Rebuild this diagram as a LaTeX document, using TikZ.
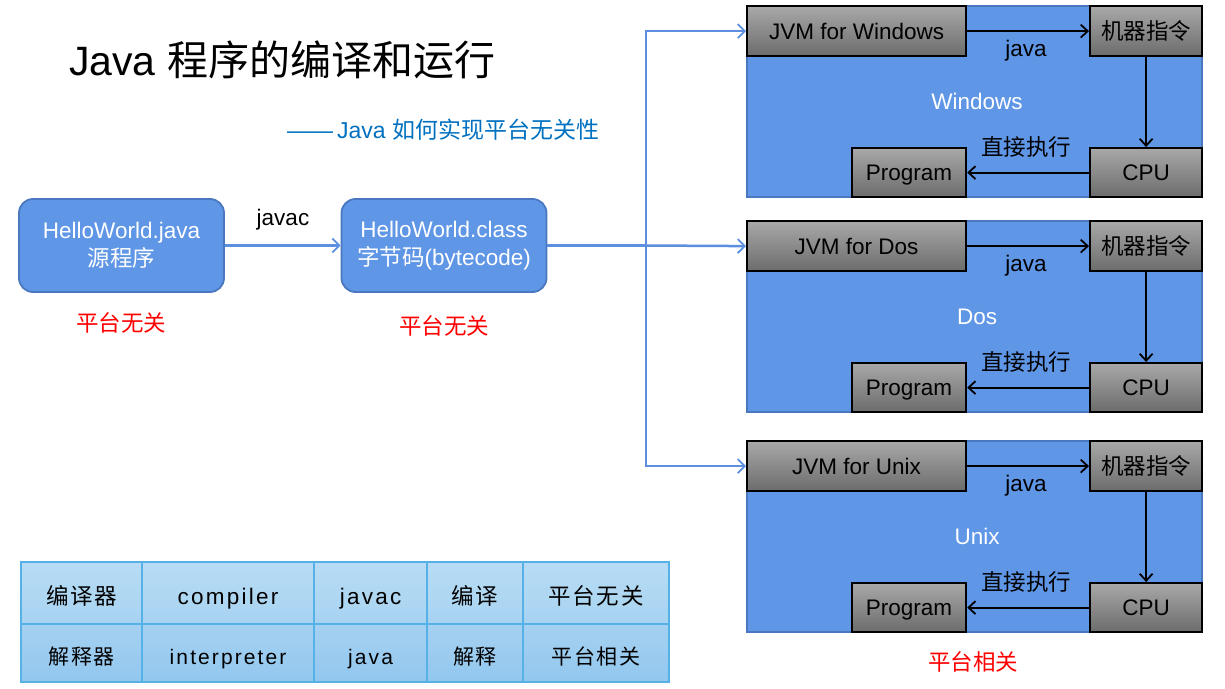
\documentclass[tikz,border=0pt]{standalone}
\usepackage{fontspec}
\setmainfont{Liberation Sans}
\newfontfamily\cjk{Noto Sans CJK SC}
\newfontfamily\spaced[LetterSpace=10]{Liberation Sans}
\newfontfamily\cjkspaced[LetterSpace=8]{Noto Sans CJK SC}
\usetikzlibrary{arrows.meta}
\definecolor{boxblue}{HTML}{5F96E6}
\definecolor{boxedge}{HTML}{4A78C0}
\definecolor{linkblue}{HTML}{5C8FE0}
\definecolor{gtop}{HTML}{A8A8A8}
\definecolor{gbot}{HTML}{6C6C6C}
\definecolor{subblue}{HTML}{0070C0}
\definecolor{tabtopa}{HTML}{B8DCF4}
\definecolor{tabbota}{HTML}{A7D3F1}
\definecolor{tabtopb}{HTML}{A5D1F1}
\definecolor{tabbotb}{HTML}{92C7EE}
\definecolor{tabline}{HTML}{55B1E6}
\tikzset{
  even/.style={text height=20.7pt, text depth=4.5pt},
  srcbox/.style={rounded corners=14pt, fill=boxblue, draw=boxedge, line width=1.8pt,
    minimum width=205pt, minimum height=93pt, text=white, align=center,
    font=\fontsize{22.5}{28}\selectfont},
  panel/.style={fill=boxblue, draw=boxedge, line width=2.2pt, anchor=north west,
    minimum width=455pt, minimum height=191pt, inner sep=0pt},
  graybox/.style={top color=gtop, bottom color=gbot, draw=black, line width=2.2pt,
    anchor=north west, inner sep=0pt, even, font=\fontsize{22.5}{27}\selectfont},
  lbl/.style={inner sep=0pt, even, font=\fontsize{22.5}{27}\selectfont},
  redlbl/.style={lbl, text=red},
  flow/.style={draw=linkblue, line width=2.5pt,
    -{Straight Barb[length=7pt,width=14pt,line width=1.8pt]}},
  blk/.style={draw=black, line width=2.2pt,
    -{Straight Barb[length=7pt,width=13pt,line width=1.8pt]}},
  cella/.style={top color=tabtopa, bottom color=tabbota, draw=tabline, line width=2.2pt,
    anchor=north west, inner sep=0pt, minimum height=62pt, text height=27pt, text depth=4pt,
    font=\fontsize{22.5}{26}\selectfont},
  cellb/.style={top color=tabtopb, bottom color=tabbotb, draw=tabline, line width=2.2pt,
    anchor=north west, inner sep=0pt, minimum height=58pt, text height=26pt, text depth=4pt,
    font=\fontsize{21}{25}\selectfont},
}
\begin{document}
\begin{tikzpicture}[x=1pt,y=-1pt]
\useasboundingbox (0,0) rectangle (1225,688);

% title
\node[anchor=west, inner sep=0pt, font=\fontsize{41}{48}\selectfont] (title) at (69,60)
  {Java {\cjk 程序的编译和运行}};
\node[anchor=west, inner sep=0pt, text=subblue, font=\fontsize{23}{27}\selectfont] (sub) at (287,130)
  {——\,Java {\cjk 如何实现平台无关性}};

% source and bytecode boxes
\node[srcbox] (src) at (121.5,245.5) {HelloWorld.java\\{\cjk 源程序}};
\node[srcbox] (cls) at (444,245.5) {HelloWorld.class\\{\cjk 字节码}(bytecode)};
\draw[flow] (src.east) -- (cls.west);
\node[lbl] (javac) at (283,217) {javac};
\node[redlbl] (r1) at (121,323) {\cjk 平台无关};
\node[redlbl] (r2) at (444,326) {\cjk 平台无关};

% panels
\foreach \os/\oy/\i in {Windows/0/1, Dos/215/2, Unix/435/3}{
  \node[panel] (pan\i) at (746,{5+\oy}) {};
  \node[graybox, minimum width=219pt, minimum height=50pt] (jvm\i) at (746,{5+\oy}) {JVM for \os};
  \node[graybox, minimum width=112pt, minimum height=50pt] (ins\i) at (1089,{5+\oy}) {\cjk 机器指令};
  \node[graybox, minimum width=112pt, minimum height=49pt] (cpu\i) at (1089,{147+\oy}) {CPU};
  \node[graybox, minimum width=114pt, minimum height=49pt] (prog\i) at (851,{147+\oy}) {Program};
  \node[lbl, text=white] (os\i) at (977,{101+\oy}) {\os};
  \node[lbl] (jl\i) at (1026,{48+\oy}) {java};
  \node[lbl] (ex\i) at (1026,{147+\oy}) {\cjk 直接执行};
  \draw[blk] (jvm\i.east) -- (ins\i.west);
  \draw[blk] (ins\i.south) -- (cpu\i.north);
  \draw[blk] (cpu\i.west) -- (prog\i.east);
}
\node[redlbl] (r3) at (973,662) {\cjk 平台相关};

% distribution
\coordinate (fork) at (646,245.5);
\draw[draw=linkblue, line width=2.5pt] (cls.east) -- (fork);
\draw[flow] (fork) |- (jvm1.west);
\draw[flow] (fork) -- (jvm2.west);
\draw[flow] (fork) |- (jvm3.west);

% table
\node[cella, minimum width=121pt] (ta1) at (20,561) {\cjkspaced 编译器};
\node[cella, minimum width=172pt] (ta2) at (141,561) {\spaced compiler};
\node[cella, minimum width=113pt] (ta3) at (313,561) {\spaced javac};
\node[cella, minimum width=96pt] (ta4) at (426,561) {\cjkspaced 编译};
\node[cella, minimum width=146pt] (ta5) at (522,561) {\cjkspaced 平台无关};
\node[cellb, minimum width=121pt] (tb1) at (20,623) {\cjkspaced 解释器};
\node[cellb, minimum width=172pt] (tb2) at (141,623) {\spaced interpreter};
\node[cellb, minimum width=113pt] (tb3) at (313,623) {\spaced java};
\node[cellb, minimum width=96pt] (tb4) at (426,623) {\cjkspaced 解释};
\node[cellb, minimum width=146pt] (tb5) at (522,623) {\cjkspaced 平台相关};
\end{tikzpicture}
\end{document}
